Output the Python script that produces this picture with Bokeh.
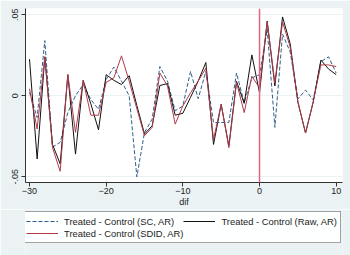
from bokeh.plotting import figure
from bokeh.layouts import column
from bokeh.models import Range1d, FixedTicker, Legend, LegendItem, Span, CustomJSTickFormatter
from bokeh.embed import file_html
from bokeh.resources import INLINE

t = list(range(-30, 11))
sc = [0.002, -0.0134, 0.034, -0.0317, -0.0287, -0.0104, 0.0, 0.0069, -0.0023, -0.0084,
      0.010, 0.0177, 0.009, 0.0, -0.050, -0.0226, -0.0144, 0.018, 0.009, -0.0093,
      -0.0063, 0.015, -0.0018, 0.015, -0.0165, -0.0165, -0.0165, 0.014, -0.0043, 0.011,
      0.013, 0.041, -0.0195, 0.038, 0.027, -0.002, 0.0035, -0.0026, 0.021, 0.024, 0.014]
raw = [0.0226, -0.039, 0.024, -0.030, -0.042, 0.013, -0.036, 0.0095, -0.005, -0.021,
       0.013, 0.0095, 0.0069, 0.0124, -0.006, -0.0236, -0.0185, 0.0063, 0.0075, -0.012,
       -0.0108, -0.001, 0.009, 0.0205, -0.030, -0.0053, -0.031, 0.0089, -0.0047, 0.0252,
       0.0018, 0.046, 0.006, 0.0486, 0.032, -0.004, -0.023, -0.004, 0.022, 0.0165, 0.013]
sdid = [0.0043, -0.0205, 0.024, -0.032, -0.0466, 0.013, -0.0226, 0.0093, -0.012, -0.012,
        0.0083, 0.011, 0.0246, 0.009, -0.008, -0.0246, -0.0195, 0.014, 0.006, -0.0175,
        -0.0063, 0.0018, 0.009, 0.017, -0.027, -0.0053, -0.032, 0.0083, -0.0104, 0.012,
        0.0049, 0.0455, 0.008, 0.0455, 0.030, -0.0035, -0.023, -0.0035, 0.019, 0.019, 0.018]
labels = ["Treated - Control (SC, AR)", "Treated - Control (Raw, AR)", "Treated - Control (SDID, AR)"]
x_ticks = [-30, -20, -10, 0, 10]
y_ticks = [-0.05, 0, 0.05]
x_title = "dif"
treat_time = 0

FONT = "Liberation Sans"
BG = "#EAF2F3"
C_SC, C_RAW, C_SDID = "#2F5E8C", "#111111", "#B23A48"

p = figure(width=350, height=209, output_backend="svg", toolbar_location=None,
           x_range=Range1d(-30.52, 10.82), y_range=Range1d(-0.0535, 0.0538),
           min_border_left=25, min_border_right=8, min_border_top=8, min_border_bottom=25)
p.border_fill_color = BG
p.background_fill_color = "white"
p.outline_line_color = None

p.line(t, sc, line_color=C_SC, line_width=1, line_dash="4 2")
p.line(t, raw, line_color=C_RAW, line_width=1)
p.line(t, sdid, line_color=C_SDID, line_width=1)

p.add_layout(Span(location=treat_time, dimension="height", line_color="#DD6680", line_width=1.5))

p.xaxis.ticker = FixedTicker(ticks=x_ticks)
p.yaxis.ticker = FixedTicker(ticks=y_ticks)
p.yaxis.formatter = CustomJSTickFormatter(code="""
    var s = (Math.round(tick*100)/100).toString();
    return s.replace('0.', '.');
""")
p.xaxis.axis_label = x_title
for ax in (p.xaxis, p.yaxis):
    ax.major_label_text_font = FONT
    ax.major_label_text_font_size = "9px"
    ax.major_label_text_color = "#222222"
    ax.axis_label_text_font = FONT
    ax.axis_label_text_font_size = "9px"
    ax.axis_label_text_font_style = "normal"
    ax.axis_label_text_color = "#222222"
    ax.minor_tick_line_color = None
    ax.major_tick_out = 4
    ax.major_tick_in = 0
    ax.axis_line_color = "#333333"
    ax.major_tick_line_color = "#333333"
p.yaxis.major_label_orientation = "vertical"
p.yaxis.major_label_standoff = 3
p.xaxis.major_label_standoff = 1
p.xaxis.axis_label_standoff = 0

p.xgrid.grid_line_color = None
p.ygrid.ticker = FixedTicker(ticks=y_ticks)
p.ygrid.grid_line_color = BG
p.ygrid.grid_line_width = 1

# legend panel: same series, kept out of view, only their legend entries are shown
q = figure(width=350, height=46, output_backend="svg", toolbar_location=None,
           x_range=Range1d(1000, 1001), y_range=Range1d(0, 1),
           x_axis_type=None, y_axis_type=None,
           min_border_left=0, min_border_right=0, min_border_top=0, min_border_bottom=0)
q.border_fill_color = BG
q.background_fill_color = BG
q.outline_line_color = None
q.xgrid.grid_line_color = None
q.ygrid.grid_line_color = None
l_sc = q.line(t, sc, line_color=C_SC, line_width=1, line_dash="4 2")
l_raw = q.line(t, raw, line_color=C_RAW, line_width=1)
l_sdid = q.line(t, sdid, line_color=C_SDID, line_width=1)

# column-major fill: column 1 = SC, SDID ; column 2 = Raw
legend = Legend(items=[LegendItem(label=labels[0], renderers=[l_sc]),
                       LegendItem(label=labels[2], renderers=[l_sdid]),
                       LegendItem(label=labels[1], renderers=[l_raw])],
                ncols=2, location=(-3, 12), orientation="vertical")
legend.label_text_font = FONT
legend.label_text_font_size = "9.4px"
legend.label_text_color = "#222222"
legend.glyph_width = 32
legend.glyph_height = 12
legend.label_height = 12
legend.label_width = 110
legend.label_standoff = 6
legend.spacing = 0
legend.padding = 3
legend.margin = 0
legend.border_line_color = "#444444"
legend.border_line_width = 1
legend.background_fill_color = "white"
q.add_layout(legend, "center")

layout = column(p, q, spacing=0)
open("out.html", "w").write(file_html(layout, INLINE))
